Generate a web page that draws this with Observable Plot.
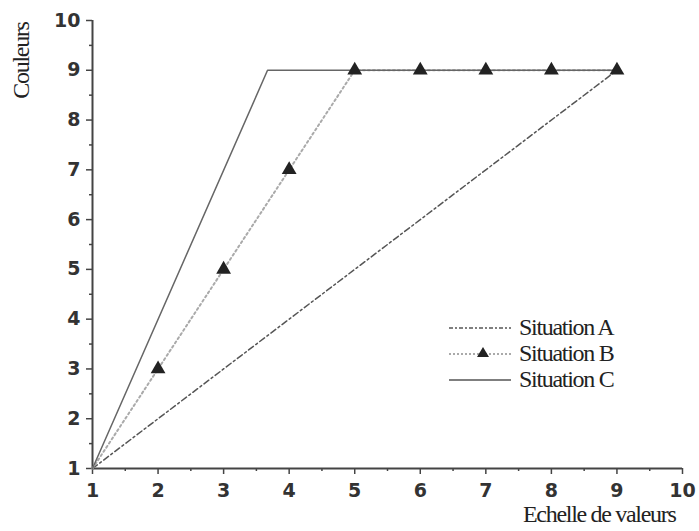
<!DOCTYPE html>
<html><head><meta charset="utf-8">
<script src="https://cdn.jsdelivr.net/npm/d3@7"></script>
<script src="https://cdn.jsdelivr.net/npm/@observablehq/plot@0.6"></script>
<style>
body{margin:0;background:#fff;}
#wrap{position:relative;width:699px;height:531px;}
#wrap svg text{font-family:"DejaVu Sans",sans-serif !important;font-size:19px !important;font-weight:bold !important;fill:#333;}
.serif{position:absolute;font-family:"Liberation Serif","DejaVu Serif",serif;color:#222;letter-spacing:-1.3px;white-space:nowrap;}
</style>
</head><body>
<div id="wrap"></div>
<script>
const majorTicks = [1,2,3,4,5,6,7,8,9,10];
const minorTicks = [1.5,2.5,3.5,4.5,5.5,6.5,7.5,8.5,9.5];
const situationA_x = [1, 9];
const situationA_y = [1, 9];
const situationB_x = [1, 2, 3, 4, 5, 6, 7, 8, 9];
const situationB_y = [1, 3, 5, 7, 9, 9, 9, 9, 9];
const situationC_x = [1, 3.67, 9];
const situationC_y = [1, 9, 9];
const seriesNames = ["Situation A", "Situation B", "Situation C"];
const xTitle = "Echelle de valeurs";
const yTitle = "Couleurs";

const A = situationA_x.map((x,i)=>({x, y: situationA_y[i]}));
const B = situationB_x.map((x,i)=>({x, y: situationB_y[i]}));
const Bpts = B.slice(1);
const C = situationC_x.map((x,i)=>({x, y: situationC_y[i]}));

const chart = Plot.plot({
  width: 699, height: 531,
  marginLeft: 92, marginRight: 17, marginTop: 20, marginBottom: 63,
  style: {fontFamily: "DejaVu Sans, sans-serif", fontSize: "19px", color: "#333", background: "#fff"},
  x: {domain: [1, 10]},
  y: {domain: [1, 10]},
  marks: [
    Plot.axisX(minorTicks, {tickSize: 3, text: null, stroke: "#444", strokeWidth: 1.5, label: null}),
    Plot.axisY(minorTicks, {tickSize: 3, text: null, stroke: "#444", strokeWidth: 1.5, label: null}),
    Plot.axisX(majorTicks, {tickSize: 6, tickPadding: 9, fontSize: 19, fontWeight: "bold", tickFormat: d3.format("d"), fill: "#333", stroke: "#444", strokeWidth: 1.5, label: null}),
    Plot.axisY(majorTicks, {tickSize: 6, tickPadding: 6, fontSize: 19, fontWeight: "bold", tickFormat: d3.format("d"), fill: "#333", stroke: "#444", strokeWidth: 1.5, label: null}),
    Plot.ruleY([1], {stroke: "#444", strokeWidth: 2}),
    Plot.ruleX([1], {stroke: "#444", strokeWidth: 2}),
    Plot.line(A, {x: "x", y: "y", stroke: "#555", strokeWidth: 1.5, strokeDasharray: "6,3,2,3"}),
    Plot.line(B, {x: "x", y: "y", stroke: "#aaa", strokeWidth: 2, strokeDasharray: "2,3"}),
    Plot.line(C, {x: "x", y: "y", stroke: "#666", strokeWidth: 1.5}),
    Plot.dot(Bpts, {x: "x", y: "y", symbol: "triangle", r: 5.5, fill: "#222", stroke: "none"})
  ]
});
const wrap = document.getElementById("wrap");
wrap.appendChild(chart);

// axis titles
const yt = document.createElement("div");
yt.className = "serif";
yt.textContent = yTitle;
yt.style.cssText += "font-size:24px;left:-23px;top:47px;transform:rotate(-90deg);transform-origin:center;width:88px;text-align:center;";
wrap.appendChild(yt);
const xt = document.createElement("div");
xt.className = "serif";
xt.textContent = xTitle;
xt.style.cssText += "font-size:24px;left:523px;top:501px;";
wrap.appendChild(xt);

// legend
const styles = [
  {stroke:"#555", dash:"4,2,2,2", w:1.5, tri:false},
  {stroke:"#aaa", dash:"2,2", w:2, tri:true},
  {stroke:"#555", dash:"", w:1.5, tri:false}
];
seriesNames.forEach((name,i)=>{
  const row = document.createElement("div");
  row.style.cssText = `position:absolute;left:445px;top:${314 + i*26}px;height:26px;display:flex;align-items:center;`;
  const s = styles[i];
  row.innerHTML = `<svg width="66" height="20"><line x1="4" x2="66" y1="11" y2="11" stroke="${s.stroke}" stroke-width="${s.w}" ${s.dash?`stroke-dasharray="${s.dash}"`:""}/>${s.tri?'<path d="M38,4 L44,14 L32,14 Z" fill="#222"/>':""}</svg>`;
  const t = document.createElement("span");
  t.className = "serif";
  t.style.position = "static";
  t.style.fontSize = "24px";
  t.style.marginLeft = "8px";
  t.textContent = name;
  row.appendChild(t);
  wrap.appendChild(row);
});
</script>
</body></html>
